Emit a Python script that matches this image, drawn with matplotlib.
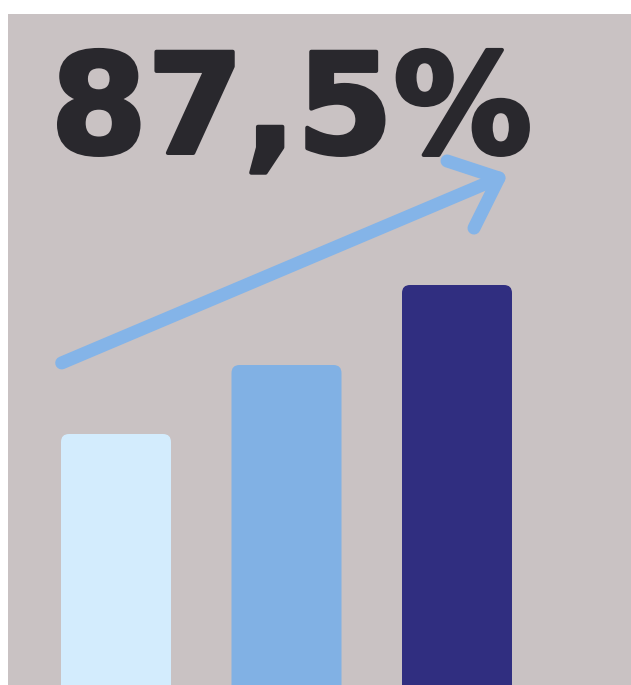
import matplotlib
matplotlib.use("Agg")
import matplotlib.pyplot as plt
from matplotlib.patches import FancyBboxPatch
from matplotlib.lines import Line2D
import matplotlib.patheffects as pe

# ---- data ----
categories = ["A", "B", "C"]
values = [2.51, 3.20, 4.00]
bar_colors = ["#d3ecfd", "#81b1e4", "#302e80"]
headline = "87,5%"

W, H = 631, 685
fig = plt.figure(figsize=(W / 100, H / 100), dpi=100)
fig.patch.set_facecolor("white")

# background panel
bg_left, bg_top = 8, 14
ax = fig.add_axes([bg_left / W, 0, (W - bg_left) / W, (H - bg_top) / H])
ax.set_facecolor("#c9c2c3")
for s in ax.spines.values():
    s.set_visible(False)
ax.set_xticks([])
ax.set_yticks([])

px_per_x = 170.5
ax_w_px = W - bg_left
ax_h_px = H - bg_top
x0_px = 108
ax.set_xlim(-x0_px / px_per_x, (ax_w_px - x0_px) / px_per_x)
ax.set_ylim(0, ax_h_px / 100)

width = 110 / px_per_x
r_px = 8
rx = r_px / px_per_x
aspect = (1 / 100) / (1 / px_per_x)
for i, (v, c) in enumerate(zip(values, bar_colors)):
    p = FancyBboxPatch((i - width / 2, -0.3), width, v + 0.3,
                       boxstyle=f"round,pad=0,rounding_size={rx}",
                       mutation_aspect=aspect, facecolor=c, edgecolor="none",
                       clip_on=True)
    ax.add_patch(p)

# arrow (axes-fraction coordinates)
arrow_color = "#84b4e8"
lw = 13 * 72 / 100
start = (0.0862, 0.480)
tip = (0.788, 0.7556)
arm1 = (0.7047, 0.781)
arm2 = (0.748, 0.681)
ax.add_line(Line2D([start[0], tip[0]], [start[1], tip[1]], transform=ax.transAxes,
                   color=arrow_color, lw=lw, solid_capstyle="round", solid_joinstyle="round"))
ax.add_line(Line2D([arm1[0], tip[0], arm2[0]], [arm1[1], tip[1], arm2[1]], transform=ax.transAxes,
                   color=arrow_color, lw=lw, solid_capstyle="round", solid_joinstyle="round"))

txt_color = "#29282d"
fig.text(50.5 / W, (H - 153) / H, headline, fontsize=100, fontweight="bold",
         family="DejaVu Sans", color=txt_color, ha="left", va="baseline",
         path_effects=[pe.withStroke(linewidth=4 * 72 / 100, foreground=txt_color)])

fig.savefig("out.png", dpi=100, facecolor=fig.get_facecolor())
